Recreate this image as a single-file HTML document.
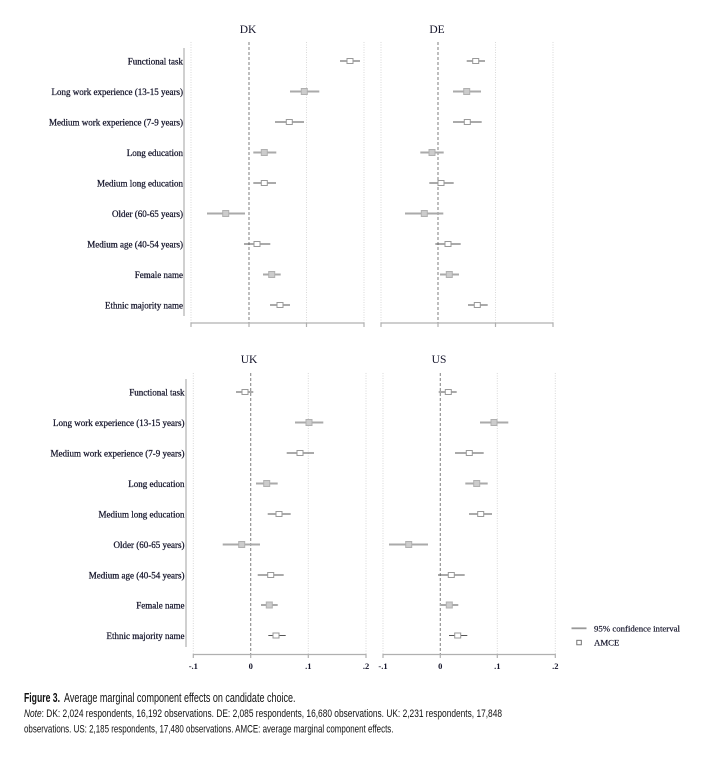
<!DOCTYPE html>
<html><head><meta charset="utf-8"><style>
html,body{margin:0;padding:0;background:#fff;}
svg{display:block;}
.lab{font-family:"Liberation Serif",serif;font-size:9px;fill:#14142a;stroke:#14142a;stroke-width:0.25;text-anchor:end;}
.tit{font-family:"Liberation Serif",serif;font-size:11.5px;fill:#14142a;text-anchor:middle;}
.tick{font-family:"Liberation Serif",serif;font-size:8.5px;fill:#14142a;text-anchor:middle;font-weight:bold;}
.leg{font-family:"Liberation Serif",serif;font-size:8.8px;fill:#14142a;stroke:#14142a;stroke-width:0.2;}
.cap{font-family:"Liberation Sans",sans-serif;fill:#111;}
.grid{stroke:#d8d8d8;stroke-width:1;stroke-dasharray:1,1.5;}
.zero{stroke:#8a8a8a;stroke-width:1.1;stroke-dasharray:3,2;}
.ax{stroke:#b0b0b0;stroke-width:1.2;fill:none;}
.dk{stroke:#555;stroke-width:1.1;}
.lt{stroke:#aaa;stroke-width:2;}
.mdk{fill:#fff;stroke:#999;stroke-width:1;}
.mlt{fill:#ccc;stroke:#b0b0b0;stroke-width:1;}
</style></head><body>
<svg width="723" height="760" viewBox="0 0 723 760" xmlns="http://www.w3.org/2000/svg">
<rect width="723" height="760" fill="#fff"/>

<text class="tit" x="248" y="33">DK</text>
<text class="tit" x="437" y="33">DE</text>
<line class="grid" x1="191" y1="42" x2="191" y2="323"/>
<line class="grid" x1="306.5" y1="42" x2="306.5" y2="323"/>
<line class="grid" x1="364" y1="42" x2="364" y2="323"/>
<line class="zero" x1="249" y1="42" x2="249" y2="323"/>
<line class="grid" x1="381" y1="42" x2="381" y2="323"/>
<line class="grid" x1="495.5" y1="42" x2="495.5" y2="323"/>
<line class="grid" x1="553" y1="42" x2="553" y2="323"/>
<line class="zero" x1="438" y1="42" x2="438" y2="323"/>
<line class="ax" x1="184" y1="48" x2="184" y2="316"/>
<path class="ax" d="M191 327V323H364V327M249 323V327M306.5 323V327"/>
<path class="ax" d="M381 327V323H553V327M438 323V327M495.5 323V327"/>

<g>
<text class="lab" x="183" y="64.5">Functional task</text>
<text class="lab" x="183" y="95">Long work experience (13-15 years)</text>
<text class="lab" x="183" y="125.5">Medium work experience (7-9 years)</text>
<text class="lab" x="183" y="156">Long education</text>
<text class="lab" x="183" y="186.5">Medium long education</text>
<text class="lab" x="183" y="217">Older (60-65 years)</text>
<text class="lab" x="183" y="247.5">Medium age (40-54 years)</text>
<text class="lab" x="183" y="278">Female name</text>
<text class="lab" x="183" y="308.5">Ethnic majority name</text>
</g>

<line class="dk" x1="340" y1="61" x2="360" y2="61"/><rect class="mdk" x="347" y="58.5" width="6" height="5"/>
<line class="lt" x1="290" y1="91.5" x2="319.3" y2="91.5"/><rect class="mlt" x="301.3" y="88.5" width="6" height="6"/>
<line class="dk" x1="275" y1="122" x2="304" y2="122"/><rect class="mdk" x="286.3" y="119.5" width="6" height="5"/>
<line class="lt" x1="253.3" y1="152.5" x2="276.3" y2="152.5"/><rect class="mlt" x="261.3" y="149.5" width="6" height="6"/>
<line class="dk" x1="253.3" y1="183" x2="276" y2="183"/><rect class="mdk" x="261.3" y="180.5" width="6" height="5"/>
<line class="lt" x1="207" y1="213.5" x2="245" y2="213.5"/><rect class="mlt" x="222.7" y="210.5" width="6" height="6"/>
<line class="dk" x1="244" y1="244" x2="270.3" y2="244"/><rect class="mdk" x="254" y="241.5" width="6" height="5"/>
<line class="lt" x1="263" y1="274.5" x2="280.7" y2="274.5"/><rect class="mlt" x="268.7" y="271.5" width="6" height="6"/>
<line class="dk" x1="270" y1="305" x2="290" y2="305"/><rect class="mdk" x="277" y="302.5" width="6" height="5"/>

<line class="dk" x1="466.7" y1="61" x2="485" y2="61"/><rect class="mdk" x="472.7" y="58.5" width="6" height="5"/>
<line class="lt" x1="453" y1="91.5" x2="481" y2="91.5"/><rect class="mlt" x="463.7" y="88.5" width="6" height="6"/>
<line class="dk" x1="453" y1="122" x2="481.7" y2="122"/><rect class="mdk" x="464.3" y="119.5" width="6" height="5"/>
<line class="lt" x1="420.3" y1="152.5" x2="443.7" y2="152.5"/><rect class="mlt" x="429" y="149.5" width="6" height="6"/>
<line class="dk" x1="429.3" y1="183" x2="453.7" y2="183"/><rect class="mdk" x="438" y="180.5" width="6" height="5"/>
<line class="lt" x1="405" y1="213.5" x2="443.3" y2="213.5"/><rect class="mlt" x="421.3" y="210.5" width="6" height="6"/>
<line class="dk" x1="435.3" y1="244" x2="460.7" y2="244"/><rect class="mdk" x="445" y="241.5" width="6" height="5"/>
<line class="lt" x1="440" y1="274.5" x2="459" y2="274.5"/><rect class="mlt" x="446.3" y="271.5" width="6" height="6"/>
<line class="dk" x1="468" y1="305" x2="487.7" y2="305"/><rect class="mdk" x="474.3" y="302.5" width="6" height="5"/>

<text class="tit" x="249" y="363">UK</text>
<text class="tit" x="439" y="363">US</text>
<line class="grid" x1="193.3" y1="373" x2="193.3" y2="654"/>
<line class="grid" x1="308.3" y1="373" x2="308.3" y2="654"/>
<line class="grid" x1="366" y1="373" x2="366" y2="654"/>
<line class="zero" x1="250.7" y1="373" x2="250.7" y2="654"/>
<line class="grid" x1="383" y1="373" x2="383" y2="654"/>
<line class="grid" x1="497.3" y1="373" x2="497.3" y2="654"/>
<line class="grid" x1="555.3" y1="373" x2="555.3" y2="654"/>
<line class="zero" x1="440.3" y1="373" x2="440.3" y2="654"/>
<line class="ax" x1="186" y1="379" x2="186" y2="647"/>
<path class="ax" d="M193.3 658V654.5H366V658M250.7 654.5V658M308.3 654.5V658"/>
<path class="ax" d="M383 658V654.5H555.3V658M440.3 654.5V658M497.3 654.5V658"/>

<text class="tick" x="193.3" y="669">-.1</text>
<text class="tick" x="250.7" y="669">0</text>
<text class="tick" x="308.3" y="669">.1</text>
<text class="tick" x="366" y="669">.2</text>
<text class="tick" x="383" y="669">-.1</text>
<text class="tick" x="440.3" y="669">0</text>
<text class="tick" x="497.3" y="669">.1</text>
<text class="tick" x="555.3" y="669">.2</text>

<g>
<text class="lab" x="184.5" y="395.5">Functional task</text>
<text class="lab" x="184.5" y="426">Long work experience (13-15 years)</text>
<text class="lab" x="184.5" y="456.5">Medium work experience (7-9 years)</text>
<text class="lab" x="184.5" y="487">Long education</text>
<text class="lab" x="184.5" y="517.5">Medium long education</text>
<text class="lab" x="184.5" y="548">Older (60-65 years)</text>
<text class="lab" x="184.5" y="578.5">Medium age (40-54 years)</text>
<text class="lab" x="184.5" y="608.5">Female name</text>
<text class="lab" x="184.5" y="639">Ethnic majority name</text>
</g>

<line class="dk" x1="236" y1="392" x2="253.3" y2="392"/><rect class="mdk" x="242" y="389.5" width="6" height="5"/>
<line class="lt" x1="295" y1="422.5" x2="323.3" y2="422.5"/><rect class="mlt" x="306" y="419.5" width="6" height="6"/>
<line class="dk" x1="286.7" y1="453" x2="314" y2="453"/><rect class="mdk" x="297" y="450.5" width="6" height="5"/>
<line class="lt" x1="256" y1="483.5" x2="277.7" y2="483.5"/><rect class="mlt" x="263.7" y="480.5" width="6" height="6"/>
<line class="dk" x1="267.7" y1="514" x2="290.7" y2="514"/><rect class="mdk" x="276" y="511.5" width="6" height="5"/>
<line class="lt" x1="222.7" y1="544.5" x2="260" y2="544.5"/><rect class="mlt" x="238.7" y="541.5" width="6" height="6"/>
<line class="dk" x1="257.7" y1="575" x2="283.7" y2="575"/><rect class="mdk" x="267.7" y="572.5" width="6" height="5"/>
<line class="lt" x1="261" y1="605" x2="277.7" y2="605"/><rect class="mlt" x="266.3" y="602" width="6" height="6"/>
<line class="dk" x1="268.3" y1="635.5" x2="285.7" y2="635.5"/><rect class="mdk" x="273" y="633" width="6" height="5"/>

<line class="dk" x1="438.7" y1="392" x2="456.7" y2="392"/><rect class="mdk" x="445.3" y="389.5" width="6" height="5"/>
<line class="lt" x1="480" y1="422.5" x2="508.3" y2="422.5"/><rect class="mlt" x="491" y="419.5" width="6" height="6"/>
<line class="dk" x1="455" y1="453" x2="483.7" y2="453"/><rect class="mdk" x="466.3" y="450.5" width="6" height="5"/>
<line class="lt" x1="465.3" y1="483.5" x2="487.7" y2="483.5"/><rect class="mlt" x="473.7" y="480.5" width="6" height="6"/>
<line class="dk" x1="469" y1="514" x2="492" y2="514"/><rect class="mdk" x="477.7" y="511.5" width="6" height="5"/>
<line class="lt" x1="389" y1="544.5" x2="428" y2="544.5"/><rect class="mlt" x="405.7" y="541.5" width="6" height="6"/>
<line class="dk" x1="438" y1="575" x2="464.7" y2="575"/><rect class="mdk" x="448.3" y="572.5" width="6" height="5"/>
<line class="lt" x1="440" y1="605" x2="458.3" y2="605"/><rect class="mlt" x="446.3" y="602" width="6" height="6"/>
<line class="dk" x1="449" y1="635.5" x2="467.3" y2="635.5"/><rect class="mdk" x="454.7" y="633" width="6" height="5"/>

<line x1="571.5" y1="628.3" x2="586.5" y2="628.3" stroke="#999" stroke-width="1.8"/>
<text class="leg" x="594" y="631.5">95% confidence interval</text>
<rect x="576.8" y="640.3" width="4.5" height="4.5" fill="#fff" stroke="#666" stroke-width="0.9"/>
<text class="leg" x="594" y="645.5">AMCE</text>

<text class="cap" x="24" y="702" font-size="12.5" font-weight="bold" textLength="36" lengthAdjust="spacingAndGlyphs">Figure 3.</text>
<text class="cap" x="64" y="702" font-size="12.5" textLength="231.5" lengthAdjust="spacingAndGlyphs">Average marginal component effects on candidate choice.</text>
<text class="cap" x="24" y="717" font-size="11" textLength="478" lengthAdjust="spacingAndGlyphs"><tspan font-style="italic">Note</tspan>: DK: 2,024 respondents, 16,192 observations. DE: 2,085 respondents, 16,680 observations. UK: 2,231 respondents, 17,848</text>
<text class="cap" x="24" y="732.5" font-size="11" textLength="369.5" lengthAdjust="spacingAndGlyphs">observations. US: 2,185 respondents, 17,480 observations. AMCE: average marginal component effects.</text>
</svg>
</body></html>
